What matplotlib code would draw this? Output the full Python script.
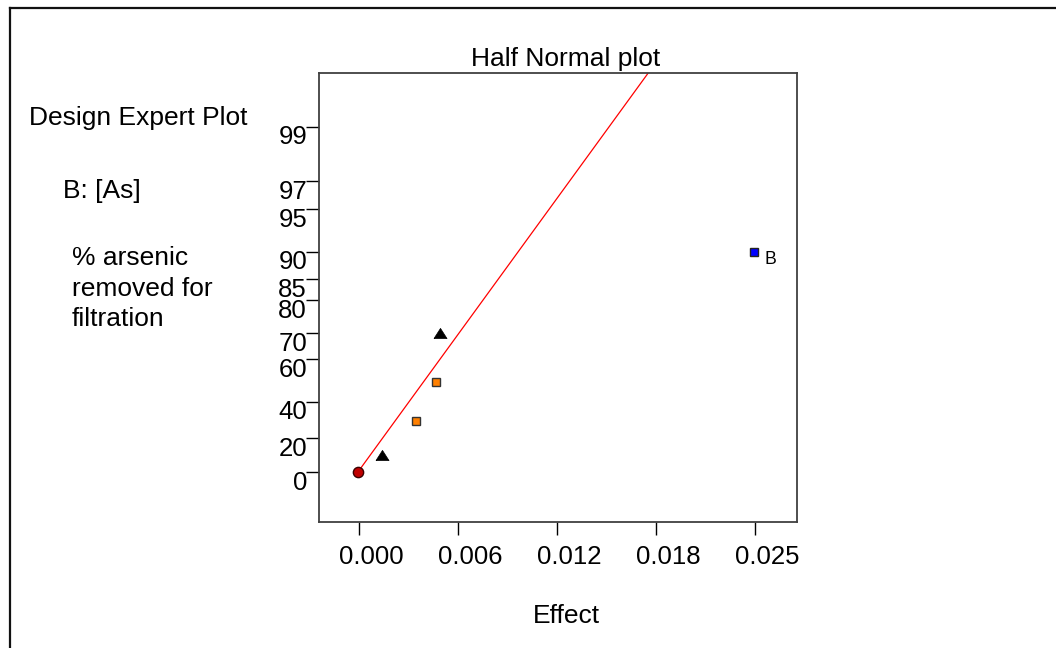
import math
from statistics import NormalDist

import numpy as np
import matplotlib
matplotlib.use("Agg")
import matplotlib.pyplot as plt
from matplotlib.lines import Line2D
from matplotlib.transforms import ScaledTranslation

plt.rcParams["font.family"] = ["Liberation Sans", "DejaVu Sans"]

# Half-normal probability (%) of each effect
origin_effect = [-0.0001]
origin_pct = [0]
error_effects = [0.00139, 0.00501]
error_pct = [10, 70]
term_effects = [0.00354, 0.00475]
term_pct = [30, 50]
b_effect = [0.02452]
b_pct = [90]
b_label = "B"

# Reference line through the error estimates
fit_effect = [-0.0001, 0.01986]
fit_pct = [0, 99.9]

x_tick_step = 0.00615
x_tick_labels = ["0.000", "0.006", "0.012", "0.018", "0.025"]
y_ticks = [0, 20, 40, 60, 70, 80, 85, 90, 95, 97, 99]

_nd = NormalDist()


def _to_z(p):
    p = np.asarray(p, dtype=float)
    def one(v):
        if not np.isfinite(v):
            return np.nan
        v = min(max(v, -99.999999), 99.999999)
        return _nd.inv_cdf(0.5 + v / 200.0)
    return np.vectorize(one, otypes=[float])(p)


def _from_z(z):
    z = np.asarray(z, dtype=float)
    def one(v):
        if not np.isfinite(v):
            return np.nan
        return 100.0 * math.erf(v / math.sqrt(2.0))
    return np.vectorize(one, otypes=[float])(z)


W, H = 1056, 648
fig = plt.figure(figsize=(W / 100, H / 100), dpi=100)

ax_l, ax_r, ax_t, ax_b = 318.5, 796.7, 73.0, 521.7
ax = fig.add_axes([ax_l / W, 1 - ax_b / H, (ax_r - ax_l) / W, (ax_b - ax_t) / H])
ax.set_yscale("function", functions=(_to_z, _from_z))

ax.plot(fit_effect, fit_pct, color="#FF0000", lw=0.9, zorder=2)

tri = [(-1, -0.78), (1, -0.78), (0, 0.78), (-1, -0.78)]
ax.plot(error_effects, error_pct, linestyle="none", marker=tri, ms=9.4,
        mfc="black", mec="black", mew=0.5, zorder=3)
ax.plot(term_effects, term_pct, linestyle="none", marker="s", ms=6,
        mfc="#FF8000", mec="#333333", mew=1.0, zorder=3)
ax.plot(b_effect, b_pct, linestyle="none", marker="s", ms=6,
        mfc="#0000FF", mec="#222222", mew=1.0, zorder=3)
ax.plot(origin_effect, origin_pct, linestyle="none", marker="o", ms=7.4,
        mfc="#C00000", mec="#3a0000", mew=1.0, zorder=4)

ax.annotate(b_label, (b_effect[0], b_pct[0]), xytext=(7.2, -9.1),
            textcoords="offset points", ha="left", va="baseline", fontsize=12.7)

x_ticks = [x_tick_step * i for i in range(len(x_tick_labels))]
ax.set_xticks(x_ticks)
ax.set_xticklabels(x_tick_labels)
ax.set_yticks(y_ticks)
ax.set_yticklabels([str(v) for v in y_ticks])
ax.set_xlim(-0.002535, 0.02717)
ax.set_ylim(-28.7, 99.707)
ax.minorticks_off()

ax.tick_params(axis="x", direction="out", length=9, width=1, pad=7.5,
               labelsize=18.5, colors="black")
ax.tick_params(axis="y", direction="out", length=9.4, width=1, pad=-1.2,
               labelsize=18.5, colors="black")
for s in ax.spines.values():
    s.set_color("#404040")
    s.set_linewidth(1.3)

for lab in ax.get_xticklabels():
    lab.set_transform(lab.get_transform() + ScaledTranslation(0.12, 0, fig.dpi_scale_trans))
for lab in ax.get_yticklabels():
    lab.set_transform(lab.get_transform() + ScaledTranslation(0, -0.08, fig.dpi_scale_trans))


def ftext(x, y, s, **kw):
    fig.text(x / W, 1 - y / H, s, va="baseline", fontsize=19, **kw)


ftext(566, 66, "Half Normal plot", ha="center")
ftext(566, 622.7, "Effect", ha="center")
ftext(29, 125, "Design Expert Plot", ha="left")
ftext(63, 198, "B: [As]", ha="left")
ftext(71.7, 265, "% arsenic", ha="left")
ftext(71.7, 296, "removed for", ha="left")
ftext(71.7, 326, "filtration", ha="left")

# Frame around the whole figure
fig.add_artist(Line2D([9.5 / W, 1.0], [1 - 8 / H, 1 - 8 / H], color="#111111", lw=1.6,
                      transform=fig.transFigure))
fig.add_artist(Line2D([9.5 / W, 9.5 / W], [1 - 8 / H, 0.0], color="#111111", lw=1.6,
                      transform=fig.transFigure))

fig.savefig("out.png", dpi=100, facecolor="white")
